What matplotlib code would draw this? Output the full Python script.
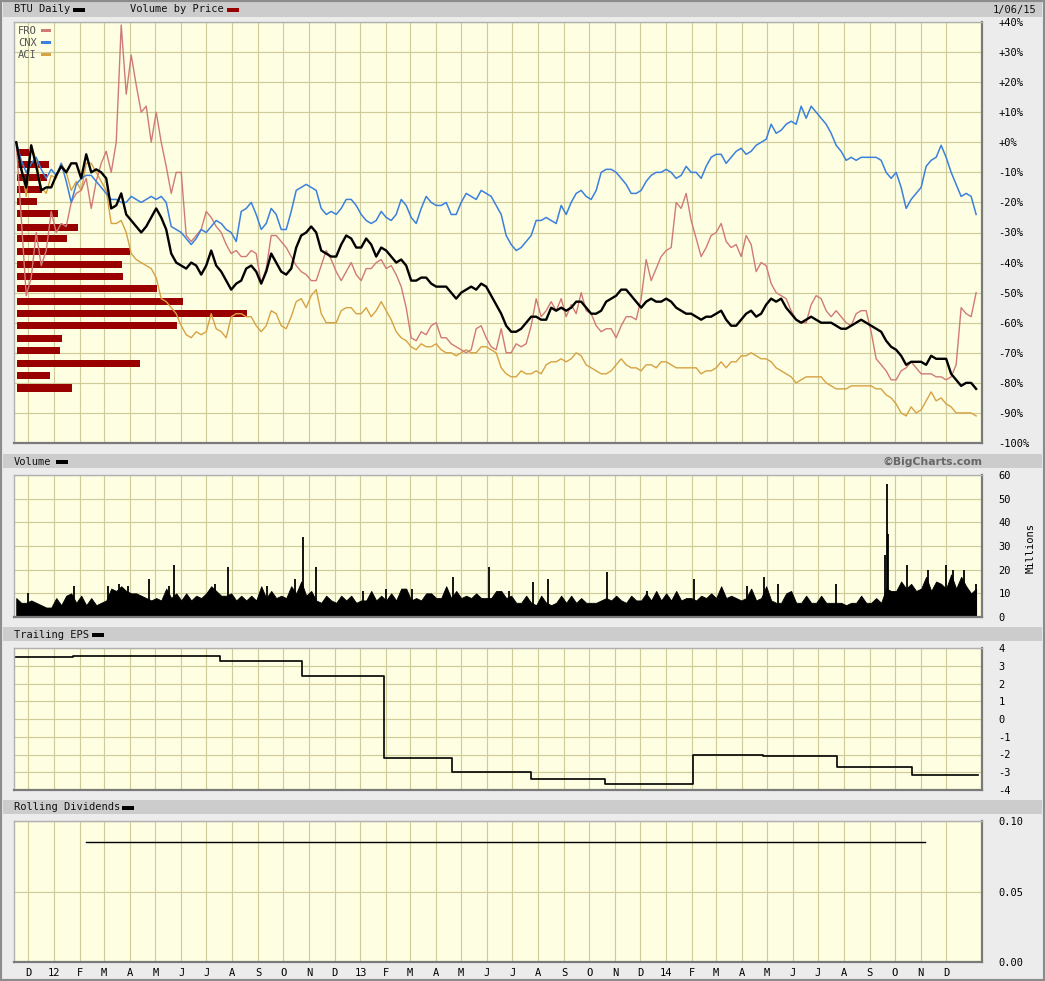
import numpy as np
import pandas as pd
import matplotlib
matplotlib.use("Agg")
import matplotlib.pyplot as plt
from matplotlib.patches import Rectangle

W, H = 1045, 981

# ---------------- data (weekly-ish samples, % change since start) ----------------
start_date, end_date = "2011-11-17", "2015-01-06"

btu = [0, -9, -15, -1, -8, -16, -15, -15, -11, -8,
       -10, -7, -7, -12, -4, -10, -9, -10, -12, -22,
       -21, -17, -24, -26, -28, -30, -28, -25, -22, -25,
       -29, -37, -40, -41, -42, -40, -41, -44, -41, -36,
       -41, -43, -46, -49, -47, -46, -42, -41, -43, -47,
       -43, -37, -40, -43, -44, -42, -35, -31, -30, -28,
       -30, -36, -37, -38, -38, -34, -31, -32, -35, -35,
       -32, -34, -38, -35, -36, -38, -40, -39, -41, -46,
       -46, -45, -45, -47, -48, -48, -48, -50, -52, -50,
       -49, -48, -49, -47, -48, -51, -54, -57, -61, -63,
       -63, -62, -60, -58, -58, -59, -59, -55, -56, -55,
       -56, -55, -53, -53, -55, -57, -57, -56, -53, -52,
       -51, -49, -49, -51, -53, -55, -53, -52, -53, -53,
       -52, -53, -55, -56, -57, -57, -58, -59, -58, -58,
       -57, -56, -59, -61, -61, -59, -57, -56, -58, -57,
       -54, -52, -53, -52, -55, -57, -59, -60, -59, -58,
       -59, -60, -60, -60, -61, -62, -62, -61, -60, -59,
       -60, -61, -62, -63, -66, -68, -69, -71, -74, -73,
       -73, -73, -74, -71, -72, -72, -72, -77, -79, -81,
       -80, -80, -82]

cnx = [0, -6, -10, -7, -5, -9, -12, -9, -11, -7,
       -13, -20, -14, -12, -11, -11, -13, -15, -17, -19,
       -19, -20, -20, -18, -19, -20, -19, -18, -19, -18,
       -20, -28, -29, -30, -32, -34, -32, -29, -30, -28,
       -26, -27, -29, -30, -33, -23, -22, -20, -24, -29,
       -27, -22, -24, -29, -29, -23, -16, -15, -14, -15,
       -16, -22, -24, -23, -24, -22, -19, -19, -21, -24,
       -26, -27, -26, -23, -25, -26, -24, -19, -21, -25,
       -27, -22, -18, -20, -21, -21, -20, -24, -24, -20,
       -17, -18, -19, -16, -17, -18, -21, -24, -31, -34,
       -36, -35, -33, -31, -26, -26, -25, -26, -27, -21,
       -24, -20, -17, -16, -18, -19, -16, -10, -9, -9,
       -10, -12, -14, -17, -17, -16, -13, -11, -10, -10,
       -9, -10, -12, -11, -8, -10, -10, -12, -8, -5,
       -4, -4, -7, -5, -3, -2, -4, -3, -1, 0,
       1, 6, 3, 4, 6, 7, 6, 12, 8, 12,
       10, 8, 6, 3, -1, -3, -6, -5, -6, -5,
       -5, -5, -5, -6, -10, -12, -10, -15, -22, -19,
       -17, -15, -8, -6, -5, -1, -5, -10, -14, -18,
       -17, -18, -24]

fro = [0, -25, -51, -45, -30, -41, -36, -23, -30, -27,
       -28, -20, -17, -16, -12, -22, -13, -7, -3, -10,
       0, 39, 16, 29, 19, 10, 12, 0, 10, 0,
       -8, -17, -10, -10, -31, -33, -31, -29, -23, -25,
       -28, -30, -34, -37, -36, -38, -38, -36, -37, -47,
       -42, -31, -31, -33, -35, -38, -41, -43, -44, -46,
       -46, -41, -36, -39, -43, -46, -43, -40, -44, -46,
       -42, -42, -40, -39, -42, -41, -44, -48, -55, -65,
       -66, -63, -64, -61, -60, -65, -65, -67, -68, -69,
       -70, -69, -62, -61, -65, -68, -69, -62, -70, -70,
       -67, -68, -67, -61, -52, -58, -56, -53, -56, -52,
       -58, -54, -57, -50, -56, -57, -61, -63, -62, -62,
       -65, -61, -58, -58, -59, -52, -39, -46, -42, -38,
       -36, -35, -20, -22, -17, -26, -32, -38, -35, -31,
       -30, -27, -33, -35, -34, -38, -31, -34, -43, -40,
       -41, -47, -50, -51, -52, -56, -59, -60, -60, -54,
       -51, -52, -56, -58, -56, -58, -60, -61, -57, -56,
       -56, -63, -72, -74, -76, -79, -79, -76, -75, -73,
       -75, -77, -77, -77, -78, -78, -79, -78, -74, -55,
       -57, -58, -50]

aci = [0, -8, -18, -1, -6, -15, -17, -11, -12, -7,
       -10, -16, -13, -16, -7, -7, -10, -13, -16, -27,
       -27, -26, -30, -37, -39, -40, -41, -42, -45, -52,
       -53, -55, -57, -61, -64, -65, -63, -64, -63, -57,
       -62, -63, -65, -58, -57, -57, -58, -58, -61, -63,
       -61, -56, -57, -61, -62, -58, -53, -52, -55, -51,
       -49, -57, -60, -60, -60, -56, -55, -55, -57, -57,
       -55, -58, -56, -53, -56, -59, -63, -65, -66, -68,
       -69, -67, -68, -68, -67, -69, -70, -70, -71, -70,
       -69, -70, -70, -68, -68, -69, -70, -75, -77, -78,
       -78, -76, -77, -77, -76, -77, -74, -73, -73, -72,
       -73, -72, -70, -71, -74, -75, -76, -77, -77, -76,
       -74, -72, -74, -75, -75, -76, -74, -74, -75, -73,
       -73, -74, -75, -75, -75, -75, -75, -77, -76, -76,
       -75, -73, -75, -73, -73, -71, -71, -70, -71, -72,
       -72, -73, -75, -76, -77, -78, -80, -79, -78, -78,
       -78, -78, -80, -81, -82, -82, -82, -81, -81, -81,
       -81, -81, -82, -82, -84, -85, -87, -90, -91, -88,
       -90, -89, -86, -83, -86, -85, -87, -88, -90, -90,
       -90, -90, -91]

# volume (millions of shares), same sampling, plus individual heavy days
vol = [8, 6, 6, 7, 6, 5, 4, 4, 8, 5,
       9, 10, 6, 9, 5, 8, 5, 6, 7, 12,
       11, 13, 11, 10, 10, 9, 8, 7, 8, 7,
       12, 8, 10, 7, 10, 7, 9, 8, 10, 13,
       11, 9, 9, 10, 7, 9, 7, 9, 7, 13,
       8, 11, 8, 9, 8, 13, 10, 15, 9, 11,
       7, 6, 9, 7, 6, 9, 7, 9, 6, 7,
       7, 11, 7, 9, 7, 10, 7, 12, 12, 7,
       8, 7, 10, 10, 8, 8, 13, 8, 11, 8,
       9, 8, 10, 8, 8, 8, 11, 11, 8, 9,
       6, 6, 9, 6, 5, 9, 6, 5, 6, 9,
       6, 9, 6, 8, 6, 6, 6, 7, 8, 7,
       9, 7, 6, 9, 7, 7, 10, 7, 11, 7,
       10, 7, 11, 7, 8, 8, 7, 9, 8, 10,
       8, 13, 8, 9, 8, 7, 8, 12, 7, 8,
       13, 7, 6, 6, 10, 11, 6, 6, 9, 6,
       6, 9, 6, 6, 6, 6, 5, 6, 6, 9,
       6, 6, 8, 6, 12, 11, 11, 15, 12, 14,
       11, 12, 17, 11, 15, 14, 12, 18, 12, 17,
       13, 10, 12]
spike_dates = ["2011-12-01", "2012-01-25", "2012-03-06", "2012-03-19", "2012-03-29",
               "2012-04-23", "2012-05-17", "2012-05-23", "2012-07-11", "2012-07-27",
               "2012-09-11", "2012-10-15", "2012-10-24", "2012-11-09", "2013-01-04",
               "2013-02-01", "2013-03-04", "2013-04-22", "2013-06-03", "2013-06-27",
               "2013-07-26", "2013-08-13", "2013-10-22", "2013-12-09", "2014-02-03",
               "2014-04-07", "2014-04-28", "2014-05-15", "2014-07-23", "2014-09-19",
               "2014-09-22", "2014-09-23", "2014-10-16", "2014-11-10", "2014-12-01",
               "2014-12-09", "2014-12-23", "2015-01-06"]
spike_vals = [10, 13, 13, 14, 13,
              16, 13, 22, 14, 21,
              13, 16, 34, 21, 11,
              12, 12, 17, 21, 11,
              15, 16, 19, 11, 16,
              13, 17, 14, 14, 26,
              56, 35, 22, 20, 22,
              20, 20, 14]

# volume by price (price levels as % change, relative volume)
vbp_levels = [-3.5, -7.3, -11.7, -15.7, -19.7, -23.8, -28.2, -32.0, -36.2, -40.5,
              -44.5, -48.5, -52.8, -56.8, -60.8, -65.2, -69.2, -73.5, -77.5, -81.7]
vbp_volume = [12, 32, 30, 25, 20, 41, 61, 50, 113, 105,
              106, 140, 166, 230, 160, 45, 43, 123, 33, 55]

eps_dates = ["2011-11-14", "2012-01-24", "2012-07-17", "2012-10-23", "2013-01-29",
             "2013-04-20", "2013-07-23", "2013-10-20", "2014-02-02", "2014-04-26",
             "2014-07-24", "2014-10-22", "2015-01-08"]
eps_vals = [3.49, 3.54, 3.26, 2.40, -2.22, -3.0, -3.38, -3.65, -2.0, -2.06, -2.68, -3.13, -3.13]

div_dates = ["2012-02-08", "2014-11-06"]
div_vals = [0.085, 0.085]

main_ticks = [40, 30, 20, 10, 0, -10, -20, -30, -40, -50, -60, -70, -80, -90, -100]
main_ticklabels = ["+40%", "+30%", "+20%", "+10%", "+0%", "-10%", "-20%", "-30%", "-40%",
                   "-50%", "-60%", "-70%", "-80%", "-90%", "-100%"]
vol_ticks = [0, 10, 20, 30, 40, 50, 60]
eps_ticks = [4, 3, 2, 1, 0, -1, -2, -3, -4]
div_ticks = [0.0, 0.05, 0.10]
div_ticklabels = ["0.00", "0.05", "0.10"]

dates = pd.date_range(start_date, end_date, periods=len(btu))
vol_dates = pd.date_range(start_date, end_date, periods=len(vol))

# ---------------- style ----------------
FACE = "#fefee2"
GRID = "#cfcc9a"
FIGBG = "#ececec"
HEAD = "#cccccc"
C_BTU = "#000000"
C_FRO = "#d07a78"
C_CNX = "#3b80dc"
C_ACI = "#d6a243"
C_VBP = "#990000"
MONO = "DejaVu Sans Mono"
FS = 7.5

xlim = (pd.Timestamp("2011-11-14 08:00"), pd.Timestamp("2015-01-13"))
month_starts = pd.date_range("2011-12-01", "2014-12-01", freq="MS")
month_labels = [d.strftime("%y") if d.month == 1 else d.strftime("%b")[0] for d in month_starts]

fig = plt.figure(figsize=(W / 100, H / 100), dpi=100)
fig.patch.set_facecolor(FIGBG)


def fx(x):
    return x / W


def fy(y):
    return 1 - y / H


def panel(top, bottom):
    return [fx(14), fy(bottom), 968 / W, (bottom - top) / H]


def style(ax):
    ax.set_facecolor(FACE)
    ax.set_xlim(*xlim)
    ax.set_xticks(month_starts)
    ax.set_xticklabels([])
    ax.grid(True, color=GRID, lw=0.85)
    ax.set_axisbelow(True)
    ax.yaxis.tick_right()
    ax.tick_params(length=0, labelsize=FS, pad=12, colors="black")
    for s in ["top", "left"]:
        ax.spines[s].set_color("#b0b0b0")
        ax.spines[s].set_linewidth(1.0)
    for s in ["right", "bottom"]:
        ax.spines[s].set_color("#7a7a7a")
        ax.spines[s].set_linewidth(1.6)


# header bars and frame
for (y0, y1) in [(2, 17), (454, 468), (627, 641), (800, 814)]:
    fig.patches.append(Rectangle((fx(3), fy(y1)), 1039 / W, (y1 - y0) / H,
                                 transform=fig.transFigure, facecolor=HEAD, edgecolor="none", zorder=0))
fig.patches.append(Rectangle((0, 0), 1, 1, transform=fig.transFigure, fill=False,
                             edgecolor="#8c8c8c", lw=3, zorder=0))


def head_label(x, y, text, color, bar_x):
    fig.text(fx(x), fy(y), text, fontfamily=MONO, fontsize=FS, va="center", ha="left", color="#111111")
    fig.patches.append(Rectangle((fx(bar_x), fy(y + 2)), 12 / W, 4 / H, transform=fig.transFigure,
                                 facecolor=color, edgecolor="none"))


head_label(14, 9.5, "BTU Daily", C_BTU, 73)
head_label(130, 9.5, "Volume by Price", C_VBP, 227)
fig.text(fx(1036), fy(9.5), "1/06/15", fontfamily=MONO, fontsize=FS, va="center", ha="right", color="#111111")
head_label(14, 461.5, "Volume", C_BTU, 56)
fig.text(fx(982), fy(461.5), "\u00a9BigCharts.com", fontfamily="DejaVu Sans", fontweight="bold",
         fontsize=7.8, va="center", ha="right", color="#666666")
head_label(14, 634.5, "Trailing EPS", C_BTU, 92)
head_label(14, 807.5, "Rolling Dividends", C_BTU, 122)

# ---- main price panel (three layers: grid, volume-by-price, lines) ----
ax_g = fig.add_axes(panel(22, 443))
style(ax_g)
ax_g.set_ylim(-100, 40)
ax_g.set_yticks(main_ticks)
ax_g.set_yticklabels(main_ticklabels, fontfamily=MONO, fontsize=FS)

ax_v = fig.add_axes(panel(22, 443))
ax_v.set_facecolor("none")
ax_v.barh(vbp_levels, vbp_volume, height=2.35, left=0, color=C_VBP)
ax_v.set_xlim(-3, 965)
ax_v.set_ylim(-100, 40)
ax_v.axis("off")

ax = fig.add_axes(panel(22, 443), sharex=ax_g, sharey=ax_g)
ax.set_facecolor("none")
ax.plot(dates, aci, color=C_ACI, lw=1.0)
ax.plot(dates, fro, color=C_FRO, lw=1.0)
ax.plot(dates, cnx, color=C_CNX, lw=1.1)
ax.plot(dates, btu, color=C_BTU, lw=1.7)
ax.tick_params(left=False, right=False, bottom=False, labelleft=False, labelright=False,
               labelbottom=False)
for s in ax.spines.values():
    s.set_visible(False)
ax.grid(False)

for i, (name, col) in enumerate([("FRO", C_FRO), ("CNX", C_CNX), ("ACI", C_ACI)]):
    yy = 30.5 + 12 * i
    fig.text(fx(18), fy(yy), name, fontfamily=MONO, fontsize=FS, va="center", ha="left", color="#555555")
    fig.patches.append(Rectangle((fx(41), fy(yy + 1.5)), 10 / W, 3 / H, transform=fig.transFigure,
                                 facecolor=col, edgecolor="none"))

# ---- volume panel ----
axv = fig.add_axes(panel(475, 617))
style(axv)
axv.fill_between(vol_dates, 0, vol, color="black", lw=0.6, edgecolor="black")
axv.vlines(pd.to_datetime(spike_dates), 0, spike_vals, color="black", lw=1.3)
axv.set_ylim(0, 60)
axv.set_yticks(vol_ticks)
axv.set_yticklabels([str(v) for v in vol_ticks], fontfamily=MONO, fontsize=FS)
fig.text(fx(1031), fy(548), "Millions", rotation=90, fontfamily=MONO, fontsize=FS,
         va="center", ha="center")

# ---- EPS panel ----
axe = fig.add_axes(panel(648, 790))
style(axe)
axe.step(pd.to_datetime(eps_dates), eps_vals, where="post", color="black", lw=1.2)
axe.set_ylim(-4, 4)
axe.set_yticks(eps_ticks)
axe.set_yticklabels([str(v) for v in eps_ticks], fontfamily=MONO, fontsize=FS)

# ---- dividends panel ----
axd = fig.add_axes(panel(821, 962))
style(axd)
axd.plot(pd.to_datetime(div_dates), div_vals, color="black", lw=1.0)
axd.set_ylim(0, 0.10)
axd.set_yticks(div_ticks)
axd.set_yticklabels(div_ticklabels, fontfamily=MONO, fontsize=FS)
axd.set_xticklabels(month_labels, fontfamily=MONO, fontsize=FS)
axd.tick_params(axis="x", pad=4)

fig.savefig("out.png", dpi=100, facecolor=fig.get_facecolor())
